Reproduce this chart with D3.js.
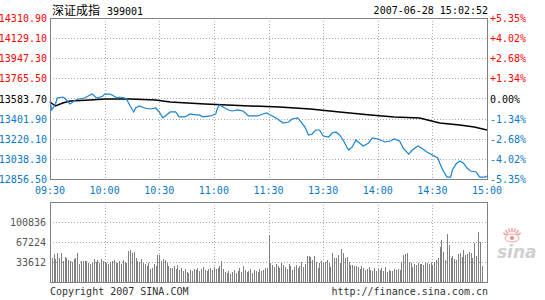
<!DOCTYPE html>
<html>
<head>
<meta charset="utf-8">
<script src="https://cdn.jsdelivr.net/npm/d3@7"></script>
<style>
  body { margin: 0; background: #fff; }
  svg text { font-family: "DejaVu Sans Mono", monospace; font-size: 10px; }
  .grid line { stroke: #aaa; stroke-dasharray: 1,2; shape-rendering: crispEdges; }
  .frame { fill: none; stroke: #808080; shape-rendering: crispEdges; }
</style>
</head>
<body>
<svg id="chart" width="545" height="300"></svg>
<script>
// index data, 2007-06-28, trading minutes after 09:30 (lunch break removed)
const prevClose = 13583.70;
const priceTicks = [12856.50, 13038.30, 13220.10, 13401.90, 13583.70, 13765.50, 13947.30, 14129.10, 14310.90];
const pctTicks = ['-5.35%', '-4.02%', '-2.68%', '-1.34%', '0.00%', '+1.34%', '+2.68%', '+4.02%', '+5.35%'];
const timeLabels = ['09:30', '10:00', '10:30', '11:00', '11:30', '13:30', '14:00', '14:30', '15:00'];
const volTicks = [33612, 67224, 100836];

const priceMin = [0, 1, 3, 4, 7, 8, 11, 14, 16, 19, 21, 23, 25, 26, 29, 30, 33, 35, 37, 38, 41, 42, 44, 46, 47, 49,
  52, 55, 58, 60, 62, 64, 66, 69, 71, 74, 77, 80, 82, 84, 88, 91, 92, 93, 96, 98, 100, 103, 106, 109, 111, 114,
  117, 119, 121, 125, 128, 131, 133, 136, 137, 140, 142, 144, 146, 148, 150, 153, 155, 157, 159, 161, 163, 164,
  166, 168, 170, 172, 175, 177, 180, 184, 187, 189, 192, 194, 197, 199, 202, 204, 207, 210, 213, 214, 216, 218,
  220, 221, 223, 225, 227, 229, 231, 234, 236, 239, 240];
const price = [13561, 13480, 13534, 13588, 13597, 13588, 13534, 13570, 13579, 13588, 13606, 13624, 13597, 13588,
  13606, 13624, 13624, 13606, 13588, 13597, 13588, 13579, 13516, 13462, 13498, 13516, 13498, 13489, 13498, 13462,
  13408, 13435, 13462, 13462, 13417, 13417, 13444, 13435, 13435, 13417, 13426, 13444, 13498, 13525, 13498, 13480,
  13471, 13480, 13471, 13426, 13426, 13426, 13444, 13453, 13435, 13399, 13362, 13371, 13399, 13408, 13390, 13326,
  13254, 13263, 13299, 13299, 13245, 13236, 13272, 13281, 13254, 13209, 13146, 13118, 13146, 13209, 13182, 13155,
  13182, 13227, 13218, 13191, 13200, 13218, 13200, 13136, 13082, 13118, 13155, 13136, 13100, 13073, 13046, 13001,
  12929, 12874, 12874, 12938, 12992, 13019, 13001, 12956, 12929, 12920, 12874, 12874, 12883];

const avgMin = [0, 3, 7, 11, 22, 30, 44, 58, 66, 85, 110, 126, 143, 159, 176, 189, 203, 214, 225, 233, 240];
const avgPrice = [13552, 13516, 13543, 13561, 13570, 13579, 13579, 13570, 13552, 13534, 13516, 13507, 13489, 13462,
  13435, 13417, 13408, 13362, 13344, 13326, 13299];

// volume per minute
const volume = [105900,
  40300, 47100, 38600, 48700, 40300, 48700, 35300, 42000, 40300, 37000, 35300, 33600, 38600, 40300,
  48700, 30200, 35300, 35300, 35300, 35300, 31900, 30200, 31900, 38600, 33600, 37000, 31900, 38600, 35300, 33600,
  31900, 30200, 33600, 35300, 37000, 33600, 31900, 35300, 30200, 37000, 33600, 31900,
  52100, 53800, 48700, 50400, 40300, 35300,
  33600, 38600, 31900, 30200, 26900, 31900, 21800, 23500, 30200, 26900, 45400,
  45400,
  35300, 38600, 37000, 31900, 26900, 23500, 23500, 26900, 21800, 28600, 20200, 23500, 18500, 21800, 16800, 15100,
  20200, 18500, 21800,
  20200, 23500, 18500, 21800, 25200, 20200, 18500, 21800, 23500, 20200, 25200, 21800, 23500, 26900, 35300, 21800,
  16800, 15100, 18500, 13400, 16800, 20200, 15100, 18500, 23500, 16800, 26900, 20200, 16800, 18500, 21800, 15100,
  20200, 18500, 16800, 21800, 18500, 20200, 23500,
  23500,
  79000,
  31900, 28600, 25200, 30200, 26900, 23500, 31900, 28600, 25200, 21800, 30200, 26900, 20200, 25200, 28600, 23500,
  26900, 33600, 25200, 30200,
  43700, 43700, 42000, 37000, 43700, 33600, 23500, 31900, 35300, 31900,
  33600, 37000, 31900, 25200, 48700, 40300, 40300, 45400, 31900, 55500, 48700, 40300, 42000, 33600, 28600,
  28600, 26900, 26900, 25200, 21800, 26900, 23500, 20200, 21800, 25200, 20200, 18500, 23500, 18500, 21800, 20200,
  23500, 18500, 25200, 16800,
  20200, 18500, 18500, 21800, 20200, 21800, 20200, 33600, 45400, 47100, 48700, 33600, 31900, 25200, 30200,
  28600, 31900, 30200, 30200, 28600, 33600, 31900, 30200, 31900, 28600, 33600, 37000, 40300, 58800, 70600,
  50400, 37000, 80700, 62200, 40300, 43700, 38600, 37000, 47100, 48700, 42000, 53800, 45400, 47100, 50400, 48700,
  40300, 65500, 43700, 84000, 67200, 26900];

const svg = d3.select('#chart');
const left = 50, right = 487;

const x = d3.scaleLinear().domain([0, 240]).range([left, right]);
const y = d3.scaleLinear().domain([priceTicks[0], priceTicks[8]]).range([179, 18]);
const yv = d3.scaleLinear().domain([0, 134448]).range([282, 202]);

const red = '#ff0000', blue = '#0a78c8';
const tickColor = v => v > prevClose + 0.01 ? red : (v < prevClose - 0.01 ? blue : '#000');

// header
svg.append('text').attr('x', 52).attr('y', 15)
  .style('font-family', '"Noto Sans CJK SC", sans-serif').style('font-size', '12px')
  .text('深证成指');
svg.append('text').attr('x', 107).attr('y', 15).text('399001');
svg.append('text').attr('x', 488).attr('y', 14).attr('text-anchor', 'end').text('2007-06-28 15:02:52');

// main grid
const xTicks = d3.range(0, 241, 30);
const grid = svg.append('g').attr('class', 'grid');
grid.selectAll('.h').data(priceTicks.slice(1, 8)).enter().append('line')
  .attr('x1', left).attr('x2', right)
  .attr('y1', d => Math.round(y(d)) + 0.5).attr('y2', d => Math.round(y(d)) + 0.5);
grid.selectAll('.v').data(xTicks.slice(1, 8)).enter().append('line')
  .attr('x1', d => Math.round(x(d)) + 0.5).attr('x2', d => Math.round(x(d)) + 0.5)
  .attr('y1', 18).attr('y2', 179);

// volume grid
const vgrid = svg.append('g').attr('class', 'grid');
vgrid.selectAll('.h').data(volTicks).enter().append('line')
  .attr('x1', left).attr('x2', right)
  .attr('y1', d => Math.round(yv(d)) + 0.5).attr('y2', d => Math.round(yv(d)) + 0.5);
vgrid.selectAll('.v').data(xTicks.slice(1, 8)).enter().append('line')
  .attr('x1', d => Math.round(x(d)) + 0.5).attr('x2', d => Math.round(x(d)) + 0.5)
  .attr('y1', 202).attr('y2', 282);

// volume bars
svg.append('g').selectAll('rect').data(volume).enter().append('rect')
  .attr('x', (d, i) => Math.round(x(i)))
  .attr('width', 1)
  .attr('y', d => Math.round(yv(d)))
  .attr('height', d => 282 - Math.round(yv(d)))
  .attr('fill', '#808080');

// price and average lines
const priceLine = d3.line().x(d => x(d[0])).y(d => y(d[1]));
svg.append('path')
  .attr('d', priceLine(d3.zip(avgMin, avgPrice)))
  .attr('fill', 'none').attr('stroke', '#000').attr('stroke-width', 1.5);
svg.append('path')
  .attr('d', priceLine(d3.zip(priceMin, price)))
  .attr('fill', 'none').attr('stroke', '#1a82d2').attr('stroke-width', 1.2);

// frames
svg.append('rect').attr('class', 'frame').attr('x', left + 0.5).attr('y', 18.5)
  .attr('width', right - left).attr('height', 161);
svg.append('rect').attr('class', 'frame').attr('x', left + 0.5).attr('y', 202.5)
  .attr('width', right - left).attr('height', 80);

// y labels
svg.append('g').selectAll('text').data(priceTicks).enter().append('text')
  .attr('x', 47).attr('y', d => y(d) + 4).attr('text-anchor', 'end')
  .attr('fill', tickColor)
  .text(d => d.toFixed(2));
svg.append('g').selectAll('text').data(pctTicks).enter().append('text')
  .attr('x', 490).attr('y', (d, i) => y(priceTicks[i]) + 4)
  .attr('fill', (d, i) => tickColor(priceTicks[i]))
  .text(d => d);

// x labels
svg.append('g').selectAll('text').data(timeLabels).enter().append('text')
  .attr('x', (d, i) => x(xTicks[i])).attr('y', 194).attr('text-anchor', 'middle')
  .attr('fill', blue)
  .text(d => d);

// volume labels
svg.append('g').selectAll('text').data(volTicks).enter().append('text')
  .attr('x', 46).attr('y', d => yv(d) + 4).attr('text-anchor', 'end')
  .attr('fill', '#555')
  .text(d => d);

// footer
svg.append('text').attr('x', 50).attr('y', 295).attr('fill', '#333').text('Copyright 2007 SINA.COM');
svg.append('text').attr('x', 488).attr('y', 295).attr('text-anchor', 'end').attr('fill', '#333')
  .text('http://finance.sina.com.cn');

// sina logo
const logo = svg.append('g').attr('transform', 'translate(512,238)');
logo.selectAll('line').data(d3.range(-60, 61, 20)).enter().append('line')
  .attr('x1', d => 6 * Math.sin(d * Math.PI / 180)).attr('y1', d => -6 * Math.cos(d * Math.PI / 180))
  .attr('x2', d => 10 * Math.sin(d * Math.PI / 180)).attr('y2', d => -10 * Math.cos(d * Math.PI / 180))
  .attr('stroke', '#f4a0a0').attr('stroke-width', 1.5);
logo.append('ellipse').attr('rx', 7).attr('ry', 4).attr('fill', 'none').attr('stroke', '#f4a0a0');
logo.append('circle').attr('r', 2).attr('fill', '#e88');
svg.append('text').attr('x', 497).attr('y', 258)
  .style('font-family', '"DejaVu Sans", sans-serif').style('font-size', '17px')
  .style('font-style', 'italic').style('font-weight', 'bold')
  .attr('fill', '#d0d0d0').text('sina');
</script>
</body>
</html>
